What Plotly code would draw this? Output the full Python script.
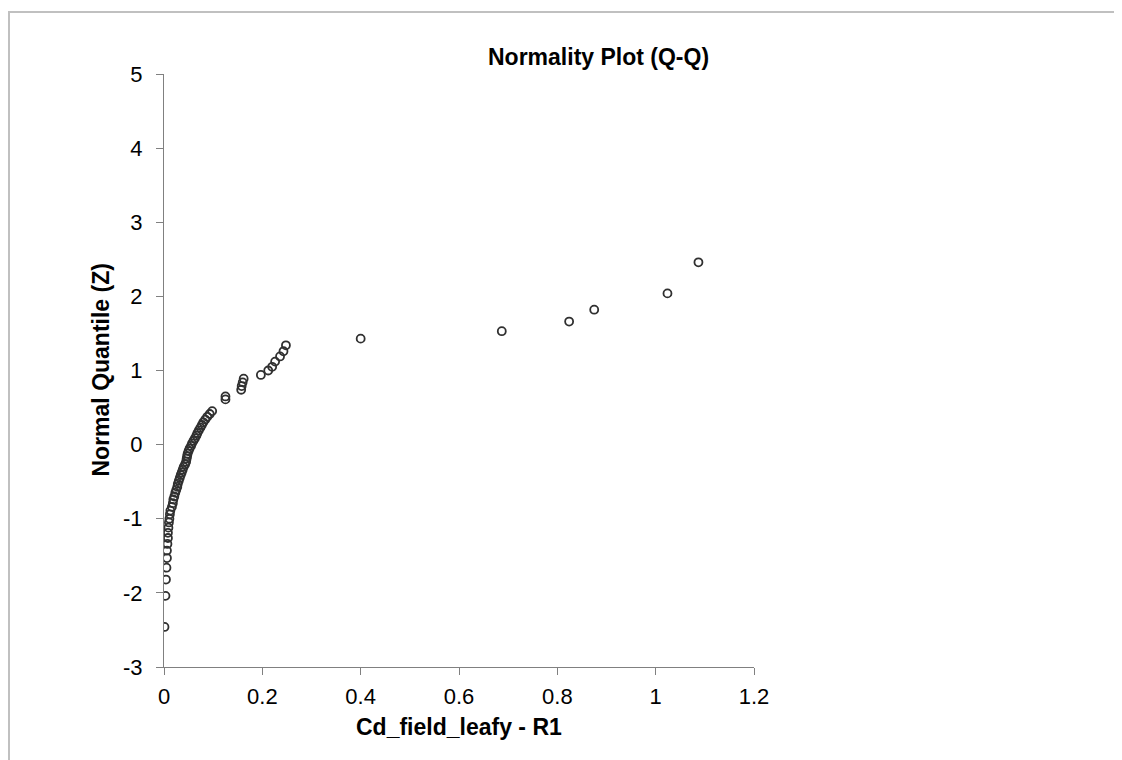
import plotly.graph_objects as go

# sample values (x) and normal quantiles (z)
cd_values = [
    0.001, 0.003, 0.004, 0.005, 0.006, 0.006, 0.007, 0.008, 0.008, 0.009,
    0.010, 0.011, 0.012, 0.013, 0.016, 0.018, 0.019, 0.021, 0.023, 0.025,
    0.027, 0.028, 0.030, 0.032, 0.034, 0.036, 0.038, 0.040, 0.043, 0.045,
    0.046, 0.047, 0.048, 0.050, 0.052, 0.055, 0.057, 0.060, 0.063, 0.066,
    0.068, 0.071, 0.074, 0.077, 0.080, 0.084, 0.088, 0.093, 0.098,
    0.125, 0.125, 0.157, 0.158, 0.160, 0.162,
    0.197, 0.212, 0.220, 0.226, 0.236, 0.243, 0.248,
    0.400, 0.687, 0.824, 0.875, 1.024, 1.087,
]
z_values = [
    -2.46, -2.04, -1.82, -1.66, -1.53, -1.43, -1.34, -1.26, -1.19, -1.12,
    -1.05, -1.00, -0.94, -0.89, -0.84, -0.79, -0.74, -0.70, -0.65, -0.61,
    -0.57, -0.53, -0.49, -0.45, -0.41, -0.375, -0.34, -0.30, -0.265, -0.23,
    -0.19, -0.157, -0.122, -0.087, -0.052, -0.017, 0.017, 0.052, 0.087, 0.122,
    0.157, 0.193, 0.229, 0.265, 0.301, 0.338, 0.375, 0.413, 0.452,
    0.61, 0.65, 0.74, 0.79, 0.84, 0.89,
    0.94, 1.00, 1.05, 1.12, 1.19, 1.26, 1.34,
    1.43, 1.53, 1.66, 1.82, 2.04, 2.46,
]
x_ticks = [0, 0.2, 0.4, 0.6, 0.8, 1, 1.2]
y_ticks = [-3, -2, -1, 0, 1, 2, 3, 4, 5]

font = "Liberation Sans, Arial, sans-serif"

# plot area in page pixels: x 164..754, y 74..667
def px(v):
    return (v - 164) / 590

def py(v):
    return (667 - v) / 593

fig = go.Figure(go.Scatter(
    x=cd_values, y=z_values, mode="markers",
    marker=dict(symbol="circle-open", size=8, color="#303030",
                line=dict(width=1.8, color="#303030")),
    showlegend=False,
))

fig.update_layout(
    width=1122, height=760,
    margin=dict(l=156, r=376, t=66, b=101),
    paper_bgcolor="white", plot_bgcolor="white",
    font=dict(family=font, size=22, color="black"),
    xaxis=dict(range=[0, 1.2], tickvals=x_ticks, ticktext=[str(v) for v in x_ticks],
               showgrid=False, zeroline=False, showline=True, linecolor="#808080",
               linewidth=1, ticks="outside", ticklen=7, tickcolor="#808080",
               ticklabelstandoff=3),
    yaxis=dict(range=[-3, 5], tickvals=y_ticks, ticktext=[str(v) for v in y_ticks],
               showgrid=False, zeroline=False, showline=True, linecolor="#808080",
               linewidth=1, ticks="outside", ticklen=7, tickcolor="#808080",
               ticklabelstandoff=9),
    shapes=[dict(type="rect", xref="paper", yref="paper",
                 x0=px(9), x1=px(1118), y0=py(800), y1=py(12),
                 line=dict(color="#c0c0c0", width=2), layer="below")],
    annotations=[
        dict(text="<b>Normality Plot (Q-Q)</b>", xref="paper", yref="paper",
             x=px(598), y=py(57), xanchor="center", yanchor="middle",
             showarrow=False, font=dict(size=23)),
        dict(text="<b>Cd_field_leafy - R1</b>", xref="paper", yref="paper",
             x=0.5, y=py(727), xanchor="center", yanchor="middle",
             showarrow=False, font=dict(size=23)),
        dict(text="<b>Normal Quantile (Z)</b>", xref="paper", yref="paper",
             x=px(100), y=0.5, xanchor="center", yanchor="middle", textangle=-90,
             showarrow=False, font=dict(size=23)),
    ],
)

fig.write_html("out.html")
